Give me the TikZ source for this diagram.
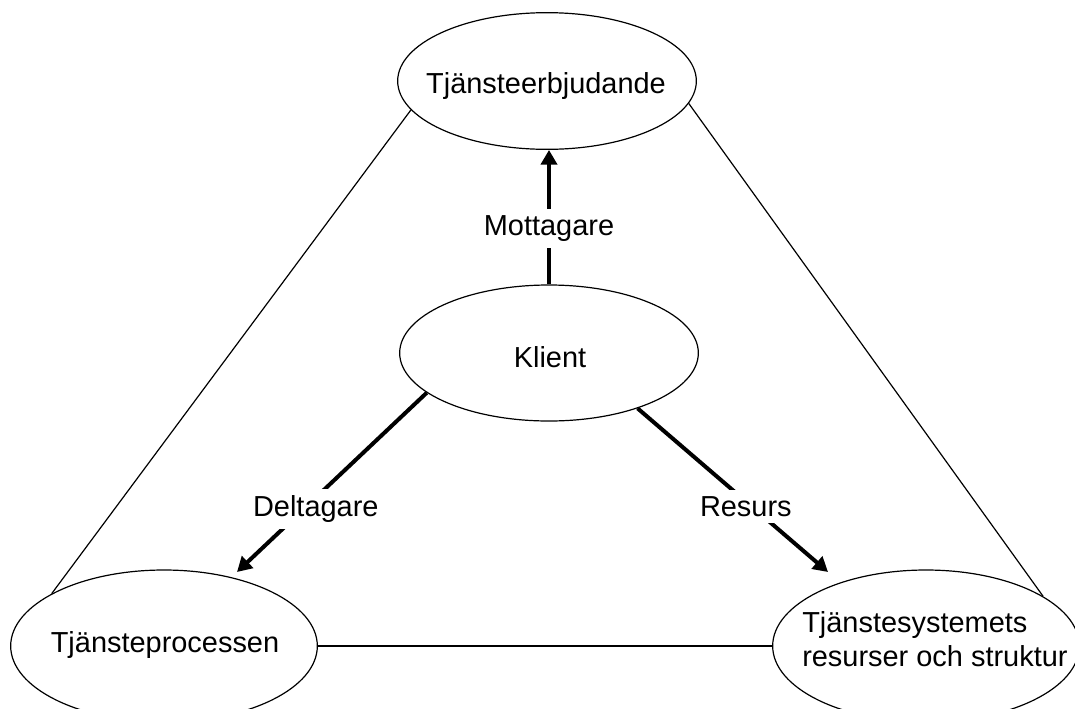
\documentclass[tikz,border=0pt]{standalone}
\usepackage{fontspec}
\setmainfont{Liberation Sans}
\usetikzlibrary{shapes.geometric, arrows.meta}

\begin{document}
\begin{tikzpicture}[x=0.75pt, y=-0.75pt,
  bubble/.style={draw, ellipse, line width=0.9pt, inner sep=0pt},
  txt/.style={inner sep=0pt, font=\fontsize{21.7}{25.5}\selectfont},
  tag/.style={txt, fill=white, inner sep=5pt},
  role/.style={line width=3pt, -{Triangle[length=11pt, width=12pt]}},
  link/.style={line width=0.9pt}]
  \clip (0,0) rectangle (1075,708);

  % ---- Ellipses ----
  \node[bubble, minimum width=224pt, minimum height=102.5pt] (offer)   at (547,81)  {};
  \node[bubble, minimum width=224pt, minimum height=102pt]   (client)  at (549,353) {};
  \node[bubble, minimum width=230pt, minimum height=114pt]   (process) at (164,646) {};
  \node[bubble, minimum width=230pt, minimum height=114pt]   (system)  at (926,646) {};

  % ---- Texts ----
  \node[txt] at (546,86)  {Tjänsteerbjudande};
  \node[txt] at (550,357) {Klient};
  \node[txt] at (165,645) {Tjänsteprocessen};
  \node[txt, align=left, anchor=west] at (802,639) {Tjänstesystemets\\resurser och struktur};

  % ---- Triangle ----
  \draw[link] (offer.192) -- (process.155.6);
  \draw[link] (offer.351) -- (system.23.8);
  \draw[link] (process.east) -- (system.west);

  % ---- Roles of the client ----
  \coordinate (procin) at (237,572);
  \coordinate (sysin)  at (828,572);
  \draw[role] (client.north) -- node[tag, pos=0.415] {Mottagare} (client.north |- offer.south);
  \draw[role] (client.198) -- node[tag, pos=0.648, xshift=9pt] {Deltagare} (procin);
  \draw[role] (client.328.5) -- node[tag, pos=0.6, xshift=-4.5pt] {Resurs} (sysin);
\end{tikzpicture}
\end{document}
